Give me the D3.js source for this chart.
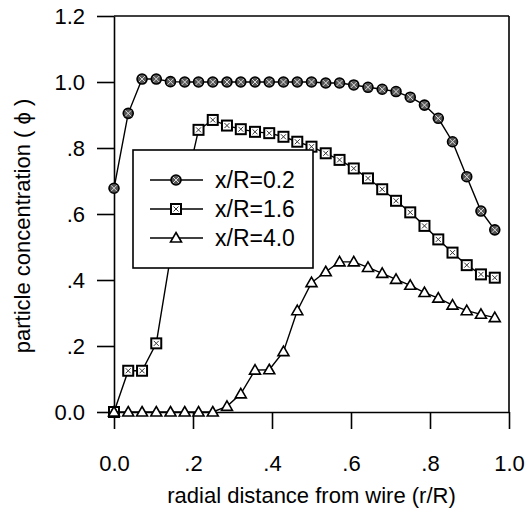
<!DOCTYPE html>
<html>
<head>
<meta charset="utf-8">
<script src="https://cdn.jsdelivr.net/npm/d3@7"></script>
<style>
  body { margin: 0; background: #fff; }
  svg { font-family: "Liberation Sans", Arial, sans-serif; }
  .axis path, .axis line { stroke: #000; stroke-width: 1.6; }
  .axis text { font-size: 22px; fill: #000; }
  .series { fill: none; stroke: #000; stroke-width: 1.4; }
</style>
</head>
<body>
<div id="chart"></div>
<script>
// r/R positions of the measuring points
var radial = [0, .036, .071, .107, .143, .179, .214, .25, .286, .321, .357, .393, .429, .464,
              .5, .536, .571, .607, .643, .679, .714, .75, .786, .821, .857, .893, .929, .964];

var conc02 = [.678, .905, 1.009, 1.009, 1.001, 1.0, 1.0, 1.0, 1.0, 1.0, 1.0, 1.0, 1.0, 1.0,
              1.0, .997, .997, .991, .984, .978, .971, .954, .93, .89, .819, .713, .609, .552];
var conc16 = [0, .125, .125, .208, .47, .67, .855, .885, .868, .857, .849, .845, .834, .819,
              .804, .784, .764, .738, .708, .675, .640, .605, .564, .523, .483, .445, .417, .407];
var conc40 = [0, 0, 0, 0, 0, 0, 0, 0, .017, .055, .127, .128, .183, .307,
              .392, .425, .455, .455, .438, .42, .402, .384, .362, .345, .324, .307, .296, .286];

var seriesNames = ["x/R=0.2", "x/R=1.6", "x/R=4.0"];
var xTicks = [0, .2, .4, .6, .8, 1.0];
var xTickLabels = ["0.0", ".2", ".4", ".6", ".8", "1.0"];
var yTicks = [0, .2, .4, .6, .8, 1.0, 1.2];
var yTickLabels = ["0.0", ".2", ".4", ".6", ".8", "1.0", "1.2"];

function init() {
  var w = 527, h = 513;
  var padLeft = 114, padRight = 509, padTop = 16, padBottom = 412;
  var tickLen = 17;

  var svg = d3.select("#chart").append("svg")
    .attr("width", w)
    .attr("height", h);

  var xScale = d3.scaleLinear().domain([0, 1]).range([padLeft, padRight]);
  var yScale = d3.scaleLinear().domain([0, 1.2]).range([padBottom, padTop]);

  // frame
  svg.append("line")
    .attr("x1", padLeft).attr("x2", padRight)
    .attr("y1", padTop).attr("y2", padTop)
    .attr("stroke", "#000").attr("stroke-width", 1.6);
  svg.append("line")
    .attr("x1", padRight).attr("x2", padRight)
    .attr("y1", padTop).attr("y2", padBottom)
    .attr("stroke", "#000").attr("stroke-width", 1.6);

  var xAxis = d3.axisBottom(xScale)
    .tickValues(xTicks)
    .tickFormat(function(d, i) { return xTickLabels[i]; })
    .tickSizeInner(tickLen)
    .tickSizeOuter(0)
    .tickPadding(26);

  var yAxis = d3.axisLeft(yScale)
    .tickValues(yTicks)
    .tickFormat(function(d, i) { return yTickLabels[i]; })
    .tickSizeInner(tickLen)
    .tickSizeOuter(0)
    .tickPadding(12);

  svg.append("g")
    .attr("class", "axis")
    .attr("transform", "translate(0," + padBottom + ")")
    .call(xAxis);

  svg.append("g")
    .attr("class", "axis")
    .attr("transform", "translate(" + padLeft + ",0)")
    .call(yAxis);

  // marker drawers
  function circleMark(g, x, y) {
    g.append("circle").attr("cx", x).attr("cy", y).attr("r", 5)
      .attr("fill", "#555").attr("stroke", "#000").attr("stroke-width", 1.6);
    g.append("path")
      .attr("d", "M" + (x - 3) + "," + (y - 3) + "L" + (x + 3) + "," + (y + 3) +
                 "M" + (x - 3) + "," + (y + 3) + "L" + (x + 3) + "," + (y - 3))
      .attr("stroke", "#ddd").attr("stroke-width", 1);
  }
  function squareMark(g, x, y) {
    g.append("rect").attr("x", x - 5).attr("y", y - 5).attr("width", 10).attr("height", 10)
      .attr("fill", "#fff").attr("stroke", "#000").attr("stroke-width", 2);
    g.append("path")
      .attr("d", "M" + (x - 2.5) + "," + (y - 2.5) + "L" + (x + 2.5) + "," + (y + 2.5) +
                 "M" + (x - 2.5) + "," + (y + 2.5) + "L" + (x + 2.5) + "," + (y - 2.5))
      .attr("stroke", "#333").attr("stroke-width", 1);
  }
  function triangleMark(g, x, y) {
    g.append("path")
      .attr("d", "M" + x + "," + (y - 5.5) + "L" + (x + 5.5) + "," + (y + 4) + "L" + (x - 5.5) + "," + (y + 4) + "Z")
      .attr("fill", "#fff").attr("stroke", "#000").attr("stroke-width", 1.6);
  }

  var allSeries = [conc02, conc16, conc40];
  var markers = [circleMark, squareMark, triangleMark];

  var line = d3.line()
    .x(function(d, i) { return xScale(radial[i]); })
    .y(function(d) { return yScale(d); });

  allSeries.forEach(function(vals, s) {
    var g = svg.append("g");
    g.append("path")
      .datum(vals)
      .attr("class", "series")
      .attr("d", line);
    vals.forEach(function(v, i) {
      markers[s](g, xScale(radial[i]), yScale(v));
    });
  });

  // legend
  var lg = svg.append("g");
  lg.append("rect")
    .attr("x", 133).attr("y", 150)
    .attr("width", 180).attr("height", 118)
    .attr("fill", "#fff").attr("stroke", "#000").attr("stroke-width", 1.6);
  seriesNames.forEach(function(name, s) {
    var y = 180 + s * 29;
    lg.append("line")
      .attr("x1", 150).attr("x2", 203)
      .attr("y1", y).attr("y2", y)
      .attr("stroke", "#000").attr("stroke-width", 1.4);
    markers[s](lg, 176, y);
    lg.append("text")
      .attr("x", 215).attr("y", y)
      .attr("dy", "0.36em")
      .attr("font-size", "23px")
      .text(name);
  });

  // axis titles
  svg.append("text")
    .attr("x", (padLeft + padRight) / 2)
    .attr("y", 503)
    .attr("text-anchor", "middle")
    .attr("font-size", "22px")
    .text("radial distance from wire (r/R)");

  svg.append("text")
    .attr("transform", "translate(30," + 226 + ") rotate(-90)")
    .attr("text-anchor", "middle")
    .attr("font-size", "22px")
    .text("particle concentration ( \u03d5 )");
}

window.onload = init;
</script>
</body>
</html>
